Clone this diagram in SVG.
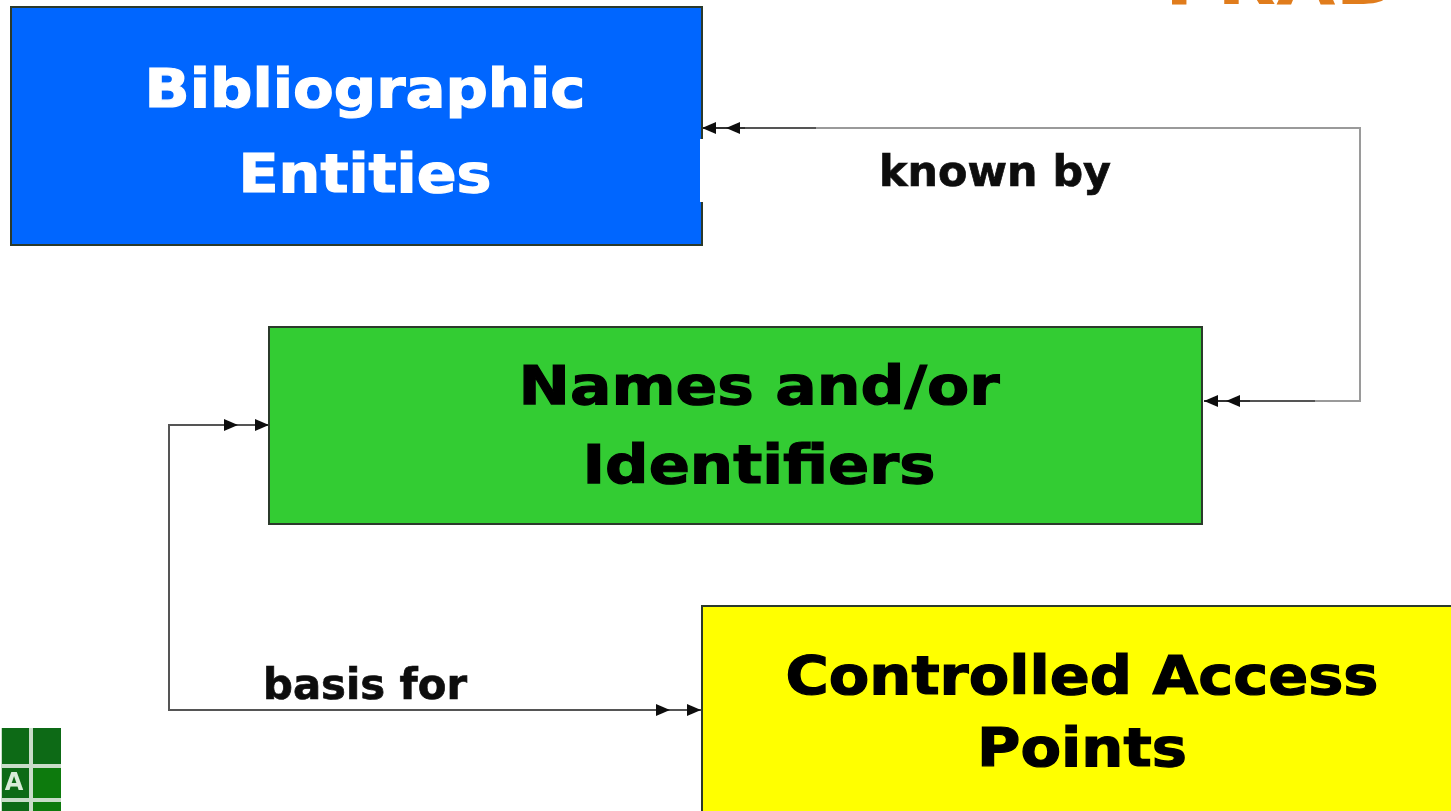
<svg xmlns="http://www.w3.org/2000/svg" width="1451" height="811" viewBox="0 0 1451 811">
<defs>
<marker id="ah" markerUnits="userSpaceOnUse" markerWidth="15" markerHeight="14" refX="14" refY="7" orient="auto"><path d="M0 1 L14 7 L0 13 Z" fill="#111"/></marker>
<filter id="soft" x="-5%" y="-5%" width="110%" height="110%"><feGaussianBlur stdDeviation="0.7"/></filter>
<filter id="softer" x="-5%" y="-20%" width="110%" height="140%"><feGaussianBlur stdDeviation="0.6"/></filter>
</defs>
<style>
.box{stroke:#2b3a2b;stroke-width:2}
.t{font-family:"DejaVu Sans",Verdana,sans-serif;font-weight:700;text-anchor:middle;font-size:54px;fill:#000;stroke:#000;stroke-width:1.2px;filter:url(#softer)}
.w{fill:#fff;stroke:#fff}
.l{font-family:"DejaVu Sans",Verdana,sans-serif;font-weight:700;text-anchor:middle;font-size:42px;fill:#111;stroke:#111;stroke-width:.7px;filter:url(#softer)}
.c{fill:none;stroke-width:2}
.g{stroke:#9a9a9a}
.d{stroke:#555}
</style>
<rect width="1451" height="811" fill="#fff"/>
<text x="1282" y="4" font-family="'DejaVu Sans',Verdana,sans-serif" font-weight="700" font-size="62" text-anchor="middle" fill="#e07b1c" textLength="234" lengthAdjust="spacingAndGlyphs" filter="url(#soft)">FRAD</text>
<g id="connectors" filter="url(#soft)">
<path class="c g" d="M816 128H1360V401H1315"/>
<path class="c d" d="M816 128H728"/>
<path class="c d" d="M1315 401H1226"/>
<path class="c" stroke="#333" d="M742 128H702" marker-end="url(#ah)"/>
<path class="c" stroke="#333" d="M745 128H726" marker-end="url(#ah)"/>
<path class="c" stroke="#333" d="M1250 401H1204" marker-end="url(#ah)"/>
<path class="c" stroke="#333" d="M1250 401H1226" marker-end="url(#ah)"/>
<path class="c d" d="M169 710V425H238" marker-end="url(#ah)"/>
<path class="c d" d="M238 425H269" marker-end="url(#ah)"/>
<path class="c d" d="M169 600V710H670" marker-end="url(#ah)"/>
<path class="c d" d="M670 710H701" marker-end="url(#ah)"/>
</g>
<g id="bibliographic-entities">
<rect class="box" x="11" y="7" width="691" height="238" fill="#0066ff"/>
<rect x="700" y="139" width="3" height="63" fill="#fff"/>
<text class="t w" x="365" y="107" textLength="441" lengthAdjust="spacingAndGlyphs">Bibliographic</text>
<text class="t w" x="365" y="192" textLength="253" lengthAdjust="spacingAndGlyphs">Entities</text>
</g>
<g id="names-identifiers">
<rect class="box" x="269" y="327" width="933" height="197" fill="#33cc33"/>
<text class="t" x="759" y="404" textLength="481" lengthAdjust="spacingAndGlyphs">Names and/or</text>
<text class="t" x="759" y="483" textLength="353" lengthAdjust="spacingAndGlyphs">Identifiers</text>
</g>
<g id="controlled-access-points">
<rect class="box" x="702" y="606" width="760" height="220" fill="#ffff00"/>
<text class="t" x="1082" y="694" textLength="593" lengthAdjust="spacingAndGlyphs">Controlled Access</text>
<text class="t" x="1082" y="766" textLength="210" lengthAdjust="spacingAndGlyphs">Points</text>
</g>
<text class="l" x="995" y="186" textLength="232" lengthAdjust="spacingAndGlyphs">known by</text>
<text class="l" x="365" y="699" textLength="204" lengthAdjust="spacingAndGlyphs">basis for</text>
<g id="logo" filter="url(#soft)">
<rect x="1" y="728" width="60" height="83" fill="#c9dcc9"/>
<rect x="2" y="728" width="27" height="36" fill="#0a6b12"/>
<rect x="33" y="728" width="28" height="36" fill="#0a6b12"/>
<rect x="2" y="768" width="27" height="30" fill="#0a6b12"/>
<rect x="33" y="768" width="28" height="30" fill="#0a7a10"/>
<rect x="2" y="802" width="27" height="9" fill="#0a6b12"/>
<rect x="33" y="802" width="28" height="9" fill="#0a7a10"/>
<text x="14" y="790" font-family="'DejaVu Sans',sans-serif" font-weight="700" font-size="24" text-anchor="middle" fill="#d8ecd8">A</text>
</g>
</svg>
